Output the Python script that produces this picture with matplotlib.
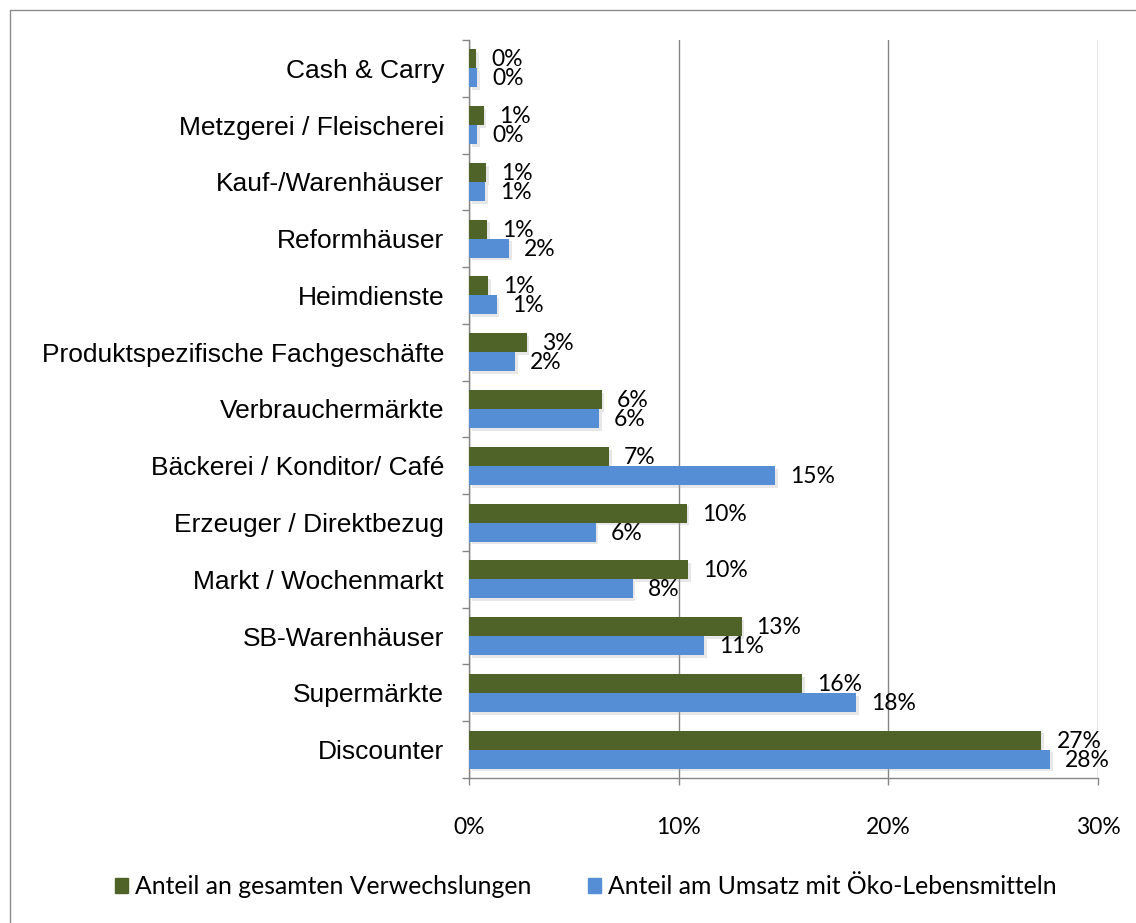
import matplotlib
matplotlib.use("Agg")
import matplotlib.pyplot as plt
import matplotlib.patheffects as pe
from matplotlib.patches import Rectangle
from matplotlib.ticker import FixedLocator, FuncFormatter
import numpy as np

# Categories listed bottom to top
categories = [
    "Discounter",
    "Supermärkte",
    "SB-Warenhäuser",
    "Markt / Wochenmarkt",
    "Erzeuger / Direktbezug",
    "Bäckerei / Konditor/ Café",
    "Verbrauchermärkte",
    "Produktspezifische Fachgeschäfte",
    "Heimdienste",
    "Reformhäuser",
    "Kauf-/Warenhäuser",
    "Metzgerei / Fleischerei",
    "Cash & Carry",
]
# Share of all mix-ups (%)
verwechslungen = [27.3, 15.9, 13.0, 10.45, 10.38, 6.68, 6.33, 2.75, 0.92, 0.87, 0.80, 0.70, 0.33]
# Share of organic food sales (%)
umsatz = [27.7, 18.45, 11.2, 7.8, 6.04, 14.6, 6.19, 2.2, 1.32, 1.92, 0.76, 0.40, 0.38]

series_names = ["Anteil an gesamten Verwechslungen", "Anteil am Umsatz mit Öko-Lebensmitteln"]
x_ticks = [0, 10, 20, 30]

GREEN = "#4F6228"
BLUE = "#558ED5"
GRID = "#868686"

W, H = 1136, 923
fig = plt.figure(figsize=(W / 100, H / 100), dpi=100)
ax = fig.add_axes([469 / W, 1 - 778 / H, (1098 - 469) / W, (778 - 40) / H])

y = np.arange(len(categories))
h = 0.335
shadow = [pe.SimplePatchShadow(offset=(2, -2), shadow_rgbFace="#b0b0b0", alpha=0.3), pe.Normal()]

bars_g = ax.barh(y + h / 2, verwechslungen, height=h, color=GREEN, zorder=3)
bars_b = ax.barh(y - h / 2, umsatz, height=h, color=BLUE, zorder=3)
for b in list(bars_g) + list(bars_b):
    b.set_path_effects(shadow)

label_font = dict(family=["Lato", "DejaVu Sans"], size=16.5, color="black")
for bars, vals in ((bars_g, verwechslungen), (bars_b, umsatz)):
    for b, v in zip(bars, vals):
        ax.annotate(f"{v:.0f}%", xy=(v, b.get_y() + b.get_height() / 2),
                    xytext=(15, -1), textcoords="offset pixels",
                    ha="left", va="center", zorder=4, **label_font)

ax.set_xlim(0, 30)
ax.set_ylim(-0.5, len(categories) - 0.5)

ax.xaxis.set_major_locator(FixedLocator(x_ticks))
ax.xaxis.set_major_formatter(FuncFormatter(lambda v, p: f"{v:.0f}%"))
ax.grid(axis="x", color=GRID, linewidth=1.0, zorder=1)

ax.set_yticks(y)
ax.set_yticklabels(categories, family="Liberation Sans", fontsize=19)
ax.tick_params(axis="y", which="major", length=0, pad=18)
ax.yaxis.set_minor_locator(FixedLocator(np.arange(-0.5, len(categories), 1.0)))
ax.tick_params(axis="y", which="minor", length=5, width=1.0, color=GRID, direction="out")
ax.tick_params(axis="x", which="major", length=5, width=1.0, color=GRID, direction="out", pad=23)
for t in ax.get_xticklabels():
    t.set_fontfamily(["Lato", "DejaVu Sans"])
    t.set_fontsize(16.5)

for side in ("top", "right"):
    ax.spines[side].set_visible(False)
for side in ("left", "bottom"):
    ax.spines[side].set_color(GRID)
    ax.spines[side].set_linewidth(1.0)

handles = [Rectangle((0, 0), 1, 1, color=GREEN), Rectangle((0, 0), 1, 1, color=BLUE)]
fig.legend(handles, series_names, loc="center", bbox_to_anchor=(586 / W, 1 - 887 / H),
           ncol=2, frameon=False, handlelength=0.5, handleheight=0.55, handletextpad=0.3,
           columnspacing=2.3, prop=dict(family=["Lato", "DejaVu Sans"], size=17.8))

# chart frame
fig.add_artist(Rectangle((10 / W, -0.2), 1.5, 1 - 10 / H + 0.2, transform=fig.transFigure,
                         fill=False, edgecolor="#8c8c8c", linewidth=1.0))

fig.savefig("out.png", dpi=100, facecolor="white")
